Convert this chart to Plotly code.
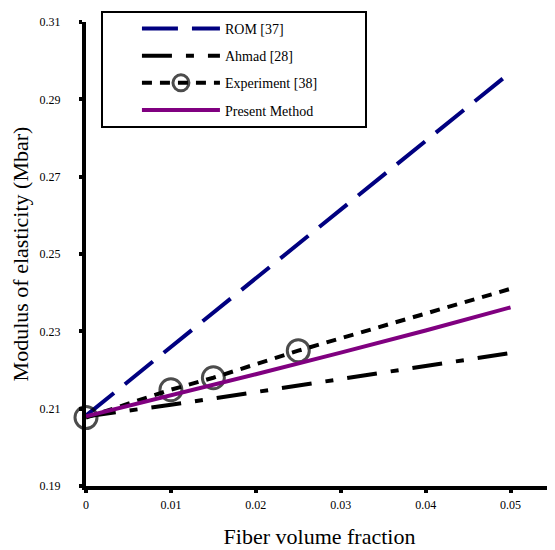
import plotly.graph_objects as go

# fiber volume fraction
vf = [0, 0.01, 0.02, 0.03, 0.04, 0.05]
rom_37 = [0.2082, 0.2260, 0.2438, 0.2616, 0.2794, 0.2970]
ahmad_28 = [0.2080, 0.2110, 0.2143, 0.2177, 0.2210, 0.2244]
present_method = [0.2080, 0.2134, 0.2189, 0.2245, 0.2302, 0.2362]

# experiment [38] points and the dashed line drawn through them
exp_vf = [0, 0.01, 0.015, 0.025, 0.05]
exp_e = [0.2077, 0.2149, 0.2180, 0.2250, 0.2410]
exp_marker = [22, 22, 22, 22, 0]

x_ticks = [0, 0.01, 0.02, 0.03, 0.04, 0.05]
y_ticks = [0.19, 0.21, 0.23, 0.25, 0.27, 0.29, 0.31]

serif = "Liberation Serif, Times New Roman, serif"
pad = "\u00a0" * 12  # widen the legend box to the right

fig = go.Figure()
fig.add_trace(go.Scatter(x=vf, y=rom_37, mode="lines", name="ROM [37]",
                         line=dict(color="#000080", width=4, dash="36px,14px"),
                         legendgroup="a", cliponaxis=False))
fig.add_trace(go.Scatter(x=vf, y=ahmad_28, mode="lines", name="Ahmad [28]",
                         line=dict(color="black", width=4, dash="30px,14px,8px,14px"),
                         legendgroup="b", cliponaxis=False))
fig.add_trace(go.Scatter(x=exp_vf, y=exp_e, mode="lines+markers", name="Experiment [38]" + pad,
                         line=dict(color="black", width=4, dash="10px,8px"),
                         marker=dict(symbol="circle-open", size=exp_marker, color="black",
                                     line=dict(width=3, color="black")),
                         legendgroup="c", cliponaxis=False))
fig.add_trace(go.Scatter(x=vf, y=present_method, mode="lines", name="Present Method",
                         line=dict(color="#800080", width=4),
                         legendgroup="d", cliponaxis=False))

# page body has an 8px margin, so the figure is 8px smaller and offsets are shifted
fig.update_layout(
    width=547, height=542,
    margin=dict(l=78, r=2, t=14, b=64),
    plot_bgcolor="white", paper_bgcolor="white",
    font=dict(family=serif, color="black"),
    legend=dict(x=0.032, y=1.024, xanchor="left", yanchor="top",
                bgcolor="white", bordercolor="black", borderwidth=2,
                font=dict(size=14, family=serif), tracegroupgap=6,
                traceorder="grouped", itemwidth=78, indentation=34),
)
fig.update_xaxes(range=[0, 0.055], tickvals=x_ticks, ticktext=[str(v) for v in x_ticks],
                 showgrid=False, zeroline=False, showline=True, linewidth=4, linecolor="black",
                 ticks="outside", ticklen=3, tickwidth=4, tickcolor="black", automargin=False,
                 tickfont=dict(size=12), ticklabelstandoff=2, layer="below traces",
                 title=dict(text="Fiber volume fraction", font=dict(size=22), standoff=18))
fig.update_yaxes(range=[0.19, 0.31], tickvals=y_ticks, ticktext=[str(v) for v in y_ticks],
                 showgrid=False, zeroline=False, showline=True, linewidth=4, linecolor="black",
                 ticks="outside", ticklen=3, tickwidth=4, tickcolor="black", automargin=False,
                 tickfont=dict(size=12), ticklabelstandoff=16, layer="below traces",
                 title=dict(text="Modulus of elasticity (Mbar)", font=dict(size=22), standoff=8))

fig.write_html("out.html")
